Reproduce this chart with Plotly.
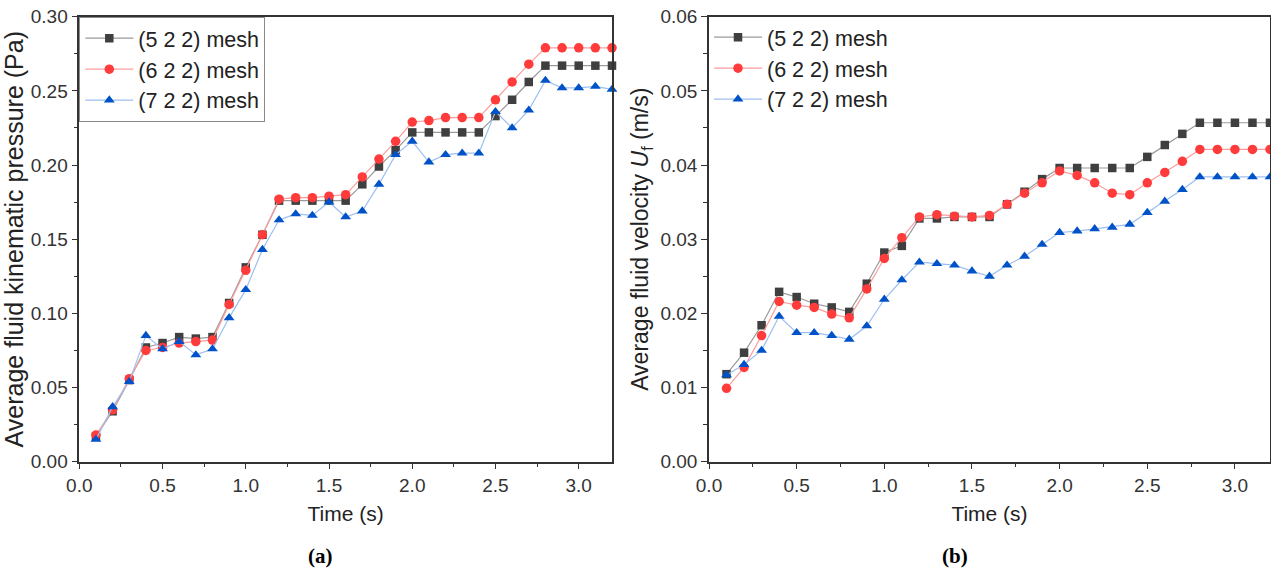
import plotly.graph_objects as go

# ---------------- data ----------------
time_s = [0.1, 0.2, 0.3, 0.4, 0.5, 0.6, 0.7, 0.8, 0.9, 1.0, 1.1, 1.2, 1.3, 1.4, 1.5, 1.6,
          1.7, 1.8, 1.9, 2.0, 2.1, 2.2, 2.3, 2.4, 2.5, 2.6, 2.7, 2.8, 2.9, 3.0, 3.1, 3.2]

series_names = ["(5 2 2) mesh", "(6 2 2) mesh", "(7 2 2) mesh"]

pressure_522 = [0.017, 0.034, 0.055, 0.077, 0.080, 0.084, 0.083, 0.084, 0.107, 0.131, 0.153, 0.176,
                0.176, 0.176, 0.176, 0.176, 0.187, 0.199, 0.210, 0.222, 0.222, 0.222, 0.222, 0.222,
                0.233, 0.244, 0.256, 0.267, 0.267, 0.267, 0.267, 0.267]
pressure_622 = [0.018, 0.035, 0.056, 0.075, 0.077, 0.080, 0.081, 0.082, 0.106, 0.129, 0.153, 0.177,
                0.178, 0.178, 0.179, 0.180, 0.192, 0.204, 0.216, 0.229, 0.230, 0.232, 0.232, 0.232,
                0.244, 0.256, 0.268, 0.279, 0.279, 0.279, 0.279, 0.279]
pressure_722 = [0.015, 0.037, 0.054, 0.085, 0.076, 0.081, 0.072, 0.076, 0.097, 0.116, 0.143, 0.163,
                0.167, 0.166, 0.175, 0.165, 0.169, 0.187, 0.207, 0.216, 0.202, 0.207, 0.208, 0.208,
                0.236, 0.225, 0.237, 0.257, 0.252, 0.252, 0.253, 0.251]

velocity_522 = [0.0118, 0.0147, 0.0184, 0.0229, 0.0222, 0.0213, 0.0208, 0.0202, 0.0240, 0.0282, 0.0291,
                0.0328, 0.0328, 0.0330, 0.0330, 0.0330, 0.0347, 0.0364, 0.0381, 0.0396, 0.0396, 0.0396,
                0.0396, 0.0396, 0.0411, 0.0427, 0.0442, 0.0457, 0.0457, 0.0457, 0.0457, 0.0457]
velocity_622 = [0.0099, 0.0127, 0.0170, 0.0216, 0.0211, 0.0208, 0.0199, 0.0194, 0.0233, 0.0274, 0.0302,
                0.0330, 0.0333, 0.0331, 0.0330, 0.0332, 0.0347, 0.0362, 0.0376, 0.0392, 0.0386, 0.0376,
                0.0362, 0.0360, 0.0376, 0.0390, 0.0405, 0.0421, 0.0421, 0.0421, 0.0421, 0.0421]
velocity_722 = [0.0117, 0.0131, 0.0150, 0.0196, 0.0174, 0.0174, 0.0170, 0.0165, 0.0183, 0.0219, 0.0245,
                0.0269, 0.0267, 0.0265, 0.0257, 0.0250, 0.0265, 0.0277, 0.0293, 0.0309, 0.0311, 0.0314,
                0.0316, 0.0320, 0.0336, 0.0351, 0.0367, 0.0384, 0.0384, 0.0384, 0.0384, 0.0384]

# ---------------- styles ----------------
FONT = "Liberation Sans, Arial, sans-serif"
SERIF = "Liberation Serif, Times New Roman, serif"
marker_colors = ["#3f3f3f", "#ff3b3b", "#0052c8"]
line_colors = ["#9a9a9a", "#ff9d9d", "#9dbff0"]
symbols = ["square", "circle", "triangle-up"]
sizes = [8.5, 9.5, 9.5]

W, H = 1271, 577
fig = go.Figure()

panels = [
    ("x", "y", "legend", [pressure_522, pressure_622, pressure_722]),
    ("x2", "y2", "legend2", [velocity_522, velocity_622, velocity_722]),
]
for xa, ya, lg, data in panels:
    for i, vals in enumerate(data):
        fig.add_trace(go.Scatter(
            x=time_s, y=vals, name=series_names[i], mode="lines+markers",
            xaxis=xa, yaxis=ya, legend=lg, cliponaxis=False,
            line=dict(color=line_colors[i], width=1.2),
            marker=dict(symbol=symbols[i], size=sizes[i], color=marker_colors[i],
                        line=dict(width=0)),
        ))

ydom = [1 - 461.7 / H, 1 - 16.7 / H]
x1dom = [79.3 / W, 612.0 / W]
x2dom = [709.0 / W, 1270.0 / W]

axis_common = dict(
    showline=True, mirror=True, linecolor="#333333", linewidth=1.5,
    ticks="outside", ticklen=6, tickwidth=1.3, tickcolor="#333333",
    showgrid=False, zeroline=False, automargin=False,
    tickfont=dict(family=FONT, size=19, color="#333333"),
)
minor_common = dict(ticks="outside", ticklen=4, tickwidth=1.2, tickcolor="#333333")

xcommon = dict(axis_common, range=[0, 3.2], tick0=0, dtick=0.5, tickformat=".1f",
               minor=dict(minor_common, dtick=0.25),
               title=dict(text="Time (s)", font=dict(family=FONT, size=21, color="#222222"), standoff=11))

legend_common = dict(y=ydom[1], xanchor="left", yanchor="top",
                     font=dict(family=FONT, size=21.5, color="#222222"), itemwidth=48,
                     tracegroupgap=0)

fig.update_layout(
    width=W, height=H, margin=dict(l=0, r=0, t=0, b=0, autoexpand=False),
    paper_bgcolor="white", plot_bgcolor="white",
    font=dict(family=FONT, color="#222222"),
    xaxis=dict(xcommon, domain=x1dom, anchor="y"),
    xaxis2=dict(xcommon, domain=x2dom, anchor="y2"),
    yaxis=dict(axis_common, domain=ydom, anchor="x", range=[0, 0.30], dtick=0.05, tickformat=".2f",
               minor=dict(minor_common, dtick=0.025),
               title=dict(text="Average fluid kinematic pressure (Pa)",
                          font=dict(family=FONT, size=25, color="#222222"), standoff=1)),
    yaxis2=dict(axis_common, domain=ydom, anchor="x2", range=[0, 0.06], dtick=0.01, tickformat=".2f",
                minor=dict(minor_common, dtick=0.005),
                title=dict(text="Average fluid velocity <i>U</i><sub>f</sub> (m/s)",
                           font=dict(family=FONT, size=23, color="#222222"), standoff=5)),
    legend=dict(legend_common, x=x1dom[0], bgcolor="white", bordercolor="#8a8a8a", borderwidth=1),
    legend2=dict(legend_common, x=x2dom[0], bgcolor="rgba(255,255,255,0.75)", borderwidth=0),
    showlegend=True,
    annotations=[
        dict(text="<b>(a)</b>", x=320 / W, y=1 - 556 / H, xref="paper", yref="paper",
             xanchor="center", yanchor="middle", showarrow=False,
             font=dict(family=SERIF, size=21, color="black")),
        dict(text="<b>(b)</b>", x=955 / W, y=1 - 556 / H, xref="paper", yref="paper",
             xanchor="center", yanchor="middle", showarrow=False,
             font=dict(family=SERIF, size=21, color="black")),
    ],
)

fig.write_html("out.html")
